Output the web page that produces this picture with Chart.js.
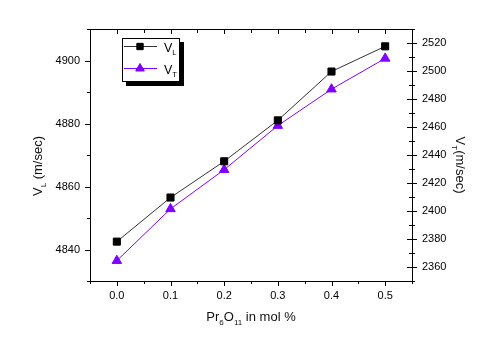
<!DOCTYPE html>
<html>
<head>
<meta charset="utf-8">
<script src="https://cdn.jsdelivr.net/npm/chart.js@4/dist/chart.umd.min.js"></script>
<style>
  html, body { margin: 0; padding: 0; background: #fff; }
  #myChart { display: block; }
</style>
</head>
<body>
<canvas id="myChart" width="482" height="347"></canvas>
<script>
// data
var molPercent = [0.0, 0.1, 0.2, 0.3, 0.4, 0.5];
var vL = [4842.5, 4856.5, 4868, 4881, 4896.5, 4904.5];
var vT = [2364.5, 2401.5, 2429.5, 2461, 2487, 2509];

// ticks
var xTicks = [0.0, 0.1, 0.2, 0.3, 0.4, 0.5];
var xMinor = [-0.05, 0.05, 0.15, 0.25, 0.35, 0.45, 0.55];
var yLTicks = [4840, 4860, 4880, 4900];
var yLMinor = [4830, 4850, 4870, 4890, 4910];
var yTTicks = [2360, 2380, 2400, 2420, 2440, 2460, 2480, 2500, 2520];
var yTMinor = [2350, 2370, 2390, 2410, 2430, 2450, 2470, 2490, 2510, 2530];

var FONT = "'Liberation Sans', Arial, sans-serif";
var PURPLE = '#8000ff';

function pts(ys) {
  return molPercent.map(function (x, i) { return { x: x, y: ys[i] }; });
}

function setTicks(list) {
  return function (scale) {
    scale.ticks = list.map(function (v) { return { value: v }; });
  };
}

// text with subscript parts, drawn at current origin
function subText(ctx, parts, size, align) {
  var w = 0;
  parts.forEach(function (p) {
    ctx.font = (p.sub ? size * 0.62 : size) + 'px ' + FONT;
    p.w = ctx.measureText(p.t).width;
    w += p.w;
  });
  var x = align === 'left' ? 0 : -w / 2;
  ctx.textAlign = 'left';
  ctx.textBaseline = 'alphabetic';
  parts.forEach(function (p) {
    ctx.font = (p.sub ? size * 0.62 : size) + 'px ' + FONT;
    ctx.fillText(p.t, x, p.sub ? size * 0.3 : 0);
    x += p.w;
  });
}

var frame = {
  id: 'frame',
  afterDraw: function (chart) {
    var ctx = chart.ctx, a = chart.chartArea;
    var sx = chart.scales.x, sl = chart.scales.yL, st = chart.scales.yT;
    ctx.save();
    ctx.strokeStyle = '#000';
    ctx.lineWidth = 1;
    ctx.beginPath();
    // top frame line
    ctx.moveTo(a.left, a.top + 0.5); ctx.lineTo(a.right, a.top + 0.5);
    function vt(x, y0, y1) { x = Math.round(x) + 0.5; ctx.moveTo(x, y0); ctx.lineTo(x, y1); }
    function ht(y, x0, x1) { y = Math.round(y) + 0.5; ctx.moveTo(x0, y); ctx.lineTo(x1, y); }
    xTicks.forEach(function (v) {
      var p = sx.getPixelForValue(v);
      vt(p, a.bottom, a.bottom + 5);
      vt(p, a.top, a.top + 5);
    });
    xMinor.forEach(function (v) {
      var p = sx.getPixelForValue(v);
      vt(p, a.bottom, a.bottom + 3);
      vt(p, a.top, a.top + 4);
    });
    yLTicks.forEach(function (v) { ht(sl.getPixelForValue(v), a.left - 5, a.left); });
    yLMinor.forEach(function (v) { ht(sl.getPixelForValue(v), a.left - 3, a.left); });
    yTTicks.forEach(function (v) { ht(st.getPixelForValue(v), a.right - 5, a.right + 5); });
    yTMinor.forEach(function (v) { ht(st.getPixelForValue(v), a.right - 3, a.right + 3); });
    ctx.stroke();

    // axis titles
    ctx.fillStyle = '#111';
    ctx.save();
    ctx.translate(42, 166);
    ctx.rotate(-Math.PI / 2);
    subText(ctx, [{ t: 'V' }, { t: 'L', sub: true }, { t: ' (m/sec)' }], 13);
    ctx.restore();

    ctx.save();
    ctx.translate(456, 165);
    ctx.rotate(Math.PI / 2);
    subText(ctx, [{ t: 'V' }, { t: 'T', sub: true }, { t: '(m/sec)' }], 13);
    ctx.restore();

    ctx.save();
    ctx.translate((a.left + a.right) / 2, 321);
    subText(ctx, [{ t: 'Pr' }, { t: '6', sub: true }, { t: 'O' }, { t: '11', sub: true }, { t: ' in mol %' }], 13);
    ctx.restore();

    // legend with shadow
    ctx.fillStyle = '#000';
    ctx.fillRect(126, 42, 58, 44);
    ctx.fillStyle = '#fff';
    ctx.fillRect(122, 38, 58, 44);
    ctx.strokeRect(122.5, 38.5, 57, 43);

    var rows = [
      { ds: chart.data.datasets[0], y: 46.5, sub: 'L' },
      { ds: chart.data.datasets[1], y: 68.5, sub: 'T' }
    ];
    rows.forEach(function (r) {
      ctx.strokeStyle = r.ds.borderColor;
      ctx.lineWidth = 1;
      ctx.beginPath();
      ctx.moveTo(124, r.y); ctx.lineTo(157, r.y);
      ctx.stroke();
      ctx.fillStyle = r.ds.pointBackgroundColor;
      ctx.strokeStyle = r.ds.pointBorderColor;
      Chart.helpers.drawPoint(ctx, { pointStyle: r.ds.pointStyle, radius: r.ds.pointRadius - 0.5, rotation: 0, borderWidth: 1 }, 140, r.y);
      ctx.fillStyle = '#000';
      ctx.save();
      ctx.translate(164, r.y + 5);
      subText(ctx, [{ t: 'V' }, { t: r.sub, sub: true }], 12.5, 'left');
      ctx.restore();
    });
    ctx.restore();
  }
};

var tickFont = { family: FONT, size: 11 };
var plain = function (v) { return String(v); };

new Chart(document.getElementById('myChart').getContext('2d'), {
  type: 'line',
  data: {
    datasets: [{
      label: 'VL',
      data: pts(vL),
      yAxisID: 'yL',
      borderColor: '#333',
      borderWidth: 1,
      pointStyle: 'rect',
      pointRadius: 5,
      pointBackgroundColor: '#000',
      pointBorderColor: '#000',
      pointBorderWidth: 1
    }, {
      label: 'VT',
      data: pts(vT),
      yAxisID: 'yT',
      borderColor: PURPLE,
      borderWidth: 1,
      pointStyle: 'triangle',
      pointRadius: 5.5,
      pointBackgroundColor: PURPLE,
      pointBorderColor: PURPLE,
      pointBorderWidth: 1
    }]
  },
  options: {
    responsive: false,
    animation: false,
    devicePixelRatio: 1,
    layout: { padding: { top: 29, left: 0, right: 0, bottom: 0 } },
    plugins: { legend: { display: false }, tooltip: { enabled: false } },
    scales: {
      x: {
        type: 'linear', position: 'bottom', min: -0.05, max: 0.55,
        afterBuildTicks: setTicks(xTicks),
        afterFit: function (s) { s.height = 66; },
        grid: { drawOnChartArea: false, color: 'rgba(0,0,0,0)', tickLength: 5 },
        border: { color: '#000', width: 1 },
        ticks: { font: tickFont, color: '#000', padding: 3, maxRotation: 0,
          callback: function (v) { return v.toFixed(1); } }
      },
      yL: {
        type: 'linear', position: 'left', min: 4830, max: 4910,
        afterBuildTicks: setTicks(yLTicks),
        afterFit: function (s) { s.width = 90; },
        grid: { drawOnChartArea: false, color: 'rgba(0,0,0,0)', tickLength: 5 },
        border: { color: '#000', width: 1 },
        ticks: { font: tickFont, color: '#000', padding: 5, callback: plain }
      },
      yT: {
        type: 'linear', position: 'right', min: 2350, max: 2530,
        afterBuildTicks: setTicks(yTTicks),
        afterFit: function (s) { s.width = 70; },
        grid: { drawOnChartArea: false, color: 'rgba(0,0,0,0)', tickLength: 5 },
        border: { color: '#000', width: 1 },
        ticks: { font: tickFont, color: '#000', padding: 5, callback: plain }
      }
    }
  },
  plugins: [frame]
});
</script>
</body>
</html>
